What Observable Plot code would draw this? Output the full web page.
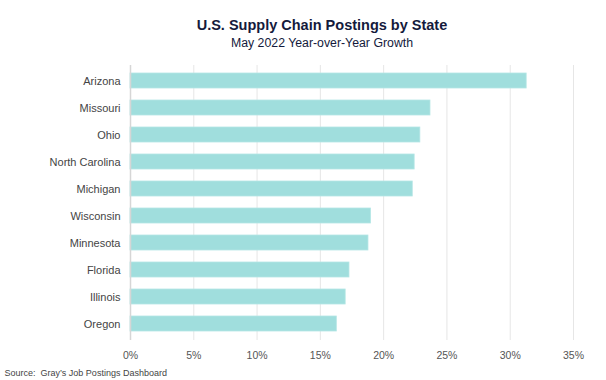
<!DOCTYPE html>
<html>
<head>
<meta charset="utf-8">
<script src="https://cdn.jsdelivr.net/npm/d3@7"></script>
<script src="https://cdn.jsdelivr.net/npm/@observablehq/plot@0.6"></script>
<style>
  body { margin: 0; background: #fff; font-family: "Liberation Sans", Arial, sans-serif; }
  #wrap { width: 606px; height: 380px; position: relative; overflow: hidden; }
  #title { position: absolute; left: 0; width: 644px; top: 17px; text-align: center; font-size: 14.5px; font-weight: bold; color: #141a3c; line-height: 17px; }
  #subtitle { position: absolute; left: 0; width: 644px; top: 35.5px; text-align: center; font-size: 12.3px; color: #141a3c; line-height: 14px; }
  #chart { position: absolute; left: 0; top: 58px; }
  #source { position: absolute; left: 4.5px; top: 368px; font-size: 9px; color: #444; white-space: pre; line-height: 10px; }
</style>
</head>
<body>
<div id="wrap">
  <div id="title">U.S. Supply Chain Postings by State</div>
  <div id="subtitle">May 2022 Year-over-Year Growth</div>
  <div id="chart"></div>
  <div id="source">Source:  Gray’s Job Postings Dashboard</div>
</div>
<script>
const states = ["Arizona","Missouri","Ohio","North Carolina","Michigan","Wisconsin","Minnesota","Florida","Illinois","Oregon"];
const growth = [0.313, 0.237, 0.229, 0.2245, 0.223, 0.190, 0.188, 0.173, 0.170, 0.163];
const xTicks = [0, 0.05, 0.10, 0.15, 0.20, 0.25, 0.30, 0.35];

const data = states.map((s, i) => ({state: s, value: growth[i]}));

const chart = Plot.plot({
  width: 606,
  height: 306,
  marginLeft: 130,
  marginRight: 33,
  marginTop: 7,
  marginBottom: 24,
  style: { fontFamily: "Liberation Sans, Arial, sans-serif", fontSize: "11px", color: "#555", background: "transparent" },
  x: { domain: [0, 0.35], ticks: xTicks, tickFormat: d => Math.round(d * 100) + "%", label: null },
  y: { domain: states, paddingInner: 0.44, paddingOuter: 0.22, label: null },
  marks: [
    Plot.gridX(xTicks.slice(1), { stroke: "#e6e6e6", strokeOpacity: 1, strokeWidth: 1 }),
    Plot.barX(data, { x: "value", y: "state", fill: "#a0dedd", stroke: "#b4e6e5", strokeWidth: 0.8 }),
    Plot.ruleX([0], { stroke: "#d6d6d6", strokeWidth: 1.5 }),
    Plot.axisX({ ticks: xTicks, tickSize: 0, tickPadding: 11, tickFormat: d => Math.round(d * 100) + "%", label: null, fill: "#555", fontSize: 10.5 }),
    Plot.axisY({ tickSize: 0, tickPadding: 10, label: null, fill: "#444" })
  ]
});
document.getElementById("chart").appendChild(chart);
</script>
</body>
</html>
